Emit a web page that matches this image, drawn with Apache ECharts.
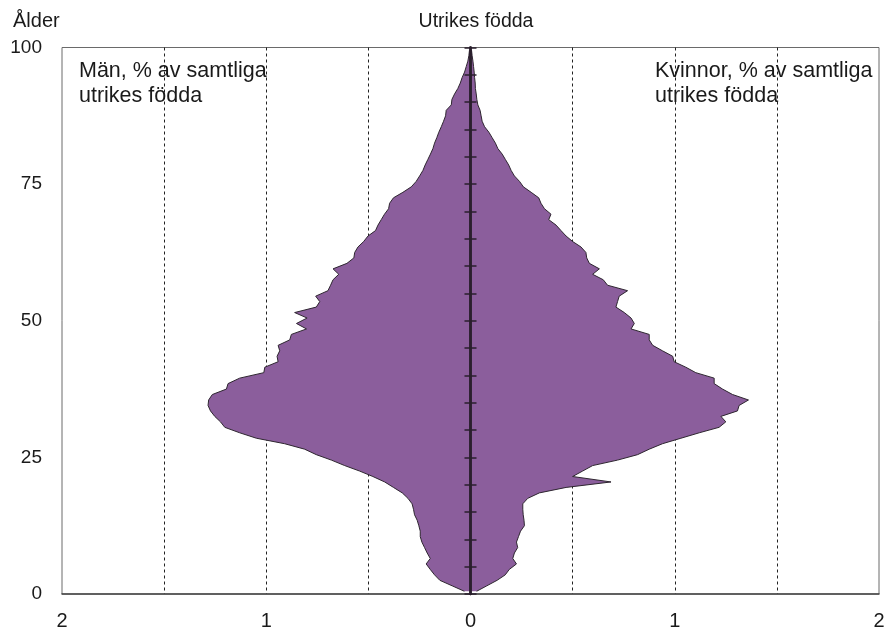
<!DOCTYPE html>
<html>
<head>
<meta charset="utf-8">
<script src="https://cdn.jsdelivr.net/npm/echarts@6/dist/echarts.min.js"></script>
<style>
html,body{margin:0;padding:0;background:#fff;}
#c{width:889px;height:631px;}
</style>
</head>
<body>
<div id="c"></div>
<script>
// Age groups 0..99 (one-year classes)
const ages = [];
for (let a = 0; a < 100; a++) ages.push(String(a));

// Men, % of all foreign-born (age 0 .. 99)
const men = [
0.03,0.09,0.15,0.176,0.197,0.217,0.197,0.212,0.225,0.238,
0.246,0.246,0.253,0.261,0.274,0.279,0.286,0.306,0.334,0.377,
0.42,0.478,0.543,0.616,0.681,0.755,0.812,0.91,1.048,1.13,
1.203,1.224,1.252,1.273,1.285,1.282,1.264,1.195,1.187,1.13,
1.012,1.007,0.942,0.947,0.934,0.942,0.885,0.877,0.803,0.852,
0.8,0.861,0.755,0.738,0.758,0.698,0.685,0.673,0.645,0.673,
0.605,0.571,0.567,0.551,0.523,0.502,0.465,0.453,0.437,0.421,
0.401,0.396,0.377,0.331,0.29,0.266,0.249,0.233,0.222,0.209,
0.196,0.184,0.176,0.165,0.155,0.143,0.132,0.122,0.119,0.094,
0.091,0.078,0.062,0.05,0.041,0.029,0.021,0.013,0.008,0.005
];

// Women, % of all foreign-born (age 0 .. 99)
const women = [
0.03,0.08,0.13,0.17,0.19,0.225,0.207,0.215,0.231,0.225,
0.235,0.245,0.264,0.262,0.258,0.256,0.256,0.28,0.337,0.468,
0.688,0.5,0.549,0.598,0.72,0.818,0.875,0.94,1.03,1.12,
1.217,1.25,1.226,1.307,1.315,1.361,1.283,1.234,1.193,1.193,
1.103,1.054,0.997,0.99,0.94,0.892,0.875,0.875,0.786,0.802,
0.786,0.753,0.712,0.72,0.728,0.769,0.671,0.65,0.598,0.631,
0.582,0.569,0.565,0.541,0.5,0.468,0.443,0.419,0.383,0.394,
0.362,0.345,0.334,0.297,0.259,0.24,0.215,0.199,0.187,0.171,
0.155,0.134,0.122,0.106,0.09,0.069,0.057,0.052,0.047,0.036,
0.031,0.028,0.024,0.023,0.02,0.018,0.015,0.012,0.008,0.005
];

const xTickLabels = {'-2':'2','-1':'1','0':'0','1':'1','2':'2'};
const yTickValues = [0,25,50,75,100];

const FONT = '"Liberation Sans", Arial, sans-serif';
const FILL = '#8b5e9c';
const EDGE = '#2e2630';

const chart = echarts.init(document.getElementById('c'), null, {renderer:'canvas'});
chart.setOption({
  animation:false,
  backgroundColor:'#fff',
  textStyle:{fontFamily:FONT},
  title:[
    {text:'Utrikes födda', left:471, top:7, textAlign:'center',
     textStyle:{fontFamily:FONT,fontSize:19.5,fontWeight:'normal',color:'#1a1a1a'}},
    {text:'Ålder', left:8, top:6,
     textStyle:{fontFamily:FONT,fontSize:20,fontWeight:'normal',color:'#1a1a1a'}},
    {text:'Män, % av samtliga\nutrikes födda', left:74, top:54,
     textStyle:{fontFamily:FONT,fontSize:21.5,fontWeight:'normal',color:'#1a1a1a',lineHeight:25}},
    {text:'Kvinnor, % av samtliga\nutrikes födda', left:650, top:54,
     textStyle:{fontFamily:FONT,fontSize:21.5,fontWeight:'normal',color:'#1a1a1a',lineHeight:25}}
  ],
  grid:{left:62, top:47.5, right:10, bottom:37, show:true, borderColor:'#6a6a6a', borderWidth:1},
  xAxis:{
    type:'value', min:-2, max:2, interval:0.5,
    axisLine:{onZero:false, lineStyle:{color:'#444', width:1.5}},
    axisTick:{show:false},
    axisLabel:{fontFamily:FONT, fontSize:20, color:'#1a1a1a', margin:17,
      formatter:function(v){ const k = String(v); return xTickLabels.hasOwnProperty(k) ? xTickLabels[k] : ''; }},
    splitLine:{show:true, showMinLine:false, showMaxLine:false, lineStyle:{color:'#222', width:1, type:[3,3]}}
  },
  yAxis:[
    {type:'value', min:0, max:100, interval:25, position:'left',
     axisLine:{show:false, onZero:false}, axisTick:{show:false}, splitLine:{show:false},
     axisLabel:{fontFamily:FONT, fontSize:19, color:'#1a1a1a', margin:20,
       formatter:function(v){ return yTickValues.indexOf(v) >= 0 ? String(v) : ''; }}},
    {type:'category', data:ages, boundaryGap:true, show:false},
    {type:'value', min:0, max:100, interval:5, position:'left', z:10,
     axisLine:{show:true, onZero:true, onZeroAxisIndex:0, lineStyle:{color:'#2a1f2c', width:2.5}},
     axisTick:{show:true, inside:false, length:6, lineStyle:{color:'#2a1f2c', width:1.5}},
     axisLabel:{show:false}, splitLine:{show:false}},
    {type:'value', min:0, max:100, interval:5, position:'right', z:10,
     axisLine:{show:true, onZero:true, onZeroAxisIndex:0, lineStyle:{color:'#2a1f2c', width:2.5}},
     axisTick:{show:true, inside:false, length:6, lineStyle:{color:'#2a1f2c', width:1.5}},
     axisLabel:{show:false}, splitLine:{show:false}}
  ],
  series:[
    {name:'Män', type:'line', yAxisIndex:1, data:men.map(function(v){return -v;}),
     symbol:'none', silent:true,
     lineStyle:{color:EDGE, width:1}, areaStyle:{color:FILL, opacity:1}},
    {name:'Kvinnor', type:'line', yAxisIndex:1, data:women,
     symbol:'none', silent:true,
     lineStyle:{color:EDGE, width:1}, areaStyle:{color:FILL, opacity:1}}
  ]
});
</script>
</body>
</html>
